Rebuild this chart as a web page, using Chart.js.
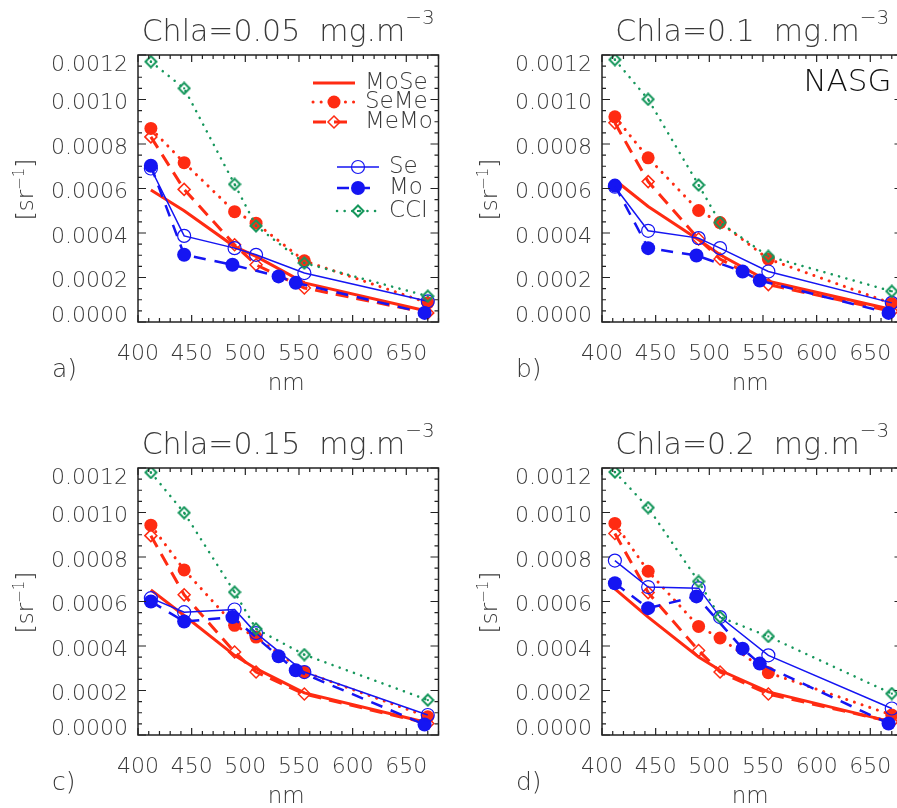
<!DOCTYPE html>
<html>
<head>
<meta charset="utf-8">
<title>Rrs spectra NASG</title>
<script src="https://cdn.jsdelivr.net/npm/chart.js@4.4.1/dist/chart.umd.min.js"></script>
<style>
  html, body { margin: 0; padding: 0; background: #fff; width: 897px; height: 808px; overflow: hidden; }
  canvas.panel { position: absolute; }
</style>
</head>
<body>
<canvas id="panelA" class="panel" width="448" height="395" style="left:0;top:0"></canvas>
<canvas id="panelB" class="panel" width="448" height="395" style="left:464px;top:0"></canvas>
<canvas id="panelC" class="panel" width="448" height="395" style="left:0;top:413px"></canvas>
<canvas id="panelD" class="panel" width="448" height="395" style="left:464px;top:413px"></canvas>
<script>
  'use strict';

  // Wavelengths (nm) of the sensors.
  var seaBands = [412, 443, 490, 510, 555, 670];
  var modisBands = [412, 443, 488, 531, 547, 667];

  // Axis tick labels.
  var xTicks = [400, 450, 500, 550, 600, 650];
  var yTicks = [0, 0.0002, 0.0004, 0.0006, 0.0008, 0.0010, 0.0012];

  var chlaLabels = ['0.05', '0.1', '0.15', '0.2'];
  var panelLetters = ['a)', 'b)', 'c)', 'd)'];

  // a) Chla = 0.05
  var moseA = [0.000593, 0.000500, 0.000339, 0.000295, 0.000176, 0.000048];
  var semeA = [0.000870, 0.000716, 0.000496, 0.000444, 0.000275, 0.000086];
  var memoA = [0.000832, 0.000596, 0.000347, 0.000257, 0.000153, 0.000041];
  var seA = [0.000690, 0.000387, 0.000332, 0.000302, 0.000220, 0.000093];
  var moA = [0.000702, 0.000302, 0.000257, 0.000205, 0.000176, 0.000041];
  var cciA = [0.001170, 0.001050, 0.000619, 0.000432, 0.000265, 0.000116];

  // b) Chla = 0.1
  var moseB = [0.000638, 0.000519, 0.000370, 0.000302, 0.000183, 0.000056];
  var semeB = [0.000922, 0.000738, 0.000501, 0.000447, 0.000283, 0.000083];
  var memoB = [0.000895, 0.000631, 0.000373, 0.000283, 0.000168, 0.000048];
  var seB = [0.000608, 0.000410, 0.000377, 0.000332, 0.000227, 0.000086];
  var moB = [0.000613, 0.000332, 0.000299, 0.000227, 0.000186, 0.000041];
  var cciB = [0.001179, 0.001001, 0.000616, 0.000447, 0.000295, 0.000138];

  // c) Chla = 0.15
  var moseC = [0.000652, 0.000537, 0.000358, 0.000298, 0.000189, 0.000055];
  var semeC = [0.000943, 0.000742, 0.000493, 0.000440, 0.000283, 0.000082];
  var memoC = [0.000896, 0.000630, 0.000373, 0.000283, 0.000184, 0.000052];
  var seC = [0.000615, 0.000552, 0.000564, 0.000458, 0.000283, 0.000090];
  var moC = [0.000600, 0.000510, 0.000530, 0.000354, 0.000291, 0.000047];
  var cciC = [0.001180, 0.000999, 0.000642, 0.000477, 0.000361, 0.000157];

  // d) Chla = 0.2
  var moseD = [0.000657, 0.000530, 0.000351, 0.000291, 0.000194, 0.000059];
  var semeD = [0.000951, 0.000736, 0.000488, 0.000436, 0.000280, 0.000090];
  var memoD = [0.000906, 0.000640, 0.000380, 0.000283, 0.000184, 0.000059];
  var seD = [0.000784, 0.000665, 0.000660, 0.000530, 0.000358, 0.000119];
  var moD = [0.000682, 0.000570, 0.000623, 0.000388, 0.000321, 0.000052];
  var cciD = [0.001182, 0.001022, 0.000690, 0.000530, 0.000443, 0.000186];

  var RED = '#ff2b12';
  var BLUE = '#1515f2';
  var GREEN = '#16975c';
  var INK = '#3a3a3a';
  var FONT = '"DejaVu Sans", sans-serif';

  function font(size) {
    return '200 ' + size + 'px ' + FONT;
  }

  function zip(xs, ys) {
    return ys.map(function (y, i) { return { x: xs[i], y: y }; });
  }

  // Green diamond with a dot in the middle, used as CCI marker.
  function makeCciMarker() {
    var c = document.createElement('canvas');
    c.width = 14;
    c.height = 14;
    var g = c.getContext('2d');
    g.strokeStyle = GREEN;
    g.lineWidth = 2;
    g.beginPath();
    g.moveTo(7, 1.5);
    g.lineTo(12.5, 7);
    g.lineTo(7, 12.5);
    g.lineTo(1.5, 7);
    g.closePath();
    g.stroke();
    g.fillStyle = GREEN;
    g.fillRect(6, 6, 2, 2);
    return c;
  }
  var cciMarker = makeCciMarker();

  function buildDatasets(mose, seme, memo, se, mo, cci) {
    // First dataset is drawn on top.
    return [
      {
        label: 'CCI', data: zip(seaBands, cci),
        borderColor: GREEN, borderWidth: 2.5, borderDash: [0.1, 7.5], borderCapStyle: 'round',
        pointStyle: cciMarker, pointRadius: 7
      },
      {
        label: 'Se', data: zip(seaBands, se),
        borderColor: BLUE, borderWidth: 1.5,
        pointStyle: 'circle', pointRadius: 6.5, pointBorderWidth: 1.2,
        pointBorderColor: BLUE, pointBackgroundColor: 'rgba(0,0,0,0)'
      },
      {
        label: 'Mo', data: zip(modisBands, mo),
        borderColor: BLUE, borderWidth: 2.5, borderDash: [12, 9],
        pointStyle: 'circle', pointRadius: 7, pointBorderWidth: 0,
        pointBackgroundColor: BLUE
      },
      {
        label: 'SeMe', data: zip(seaBands, seme),
        borderColor: RED, borderWidth: 3, borderDash: [0.1, 8], borderCapStyle: 'round',
        pointStyle: 'circle', pointRadius: 6.5, pointBorderWidth: 0,
        pointBackgroundColor: RED
      },
      {
        label: 'MeMo', data: zip(seaBands, memo),
        borderColor: RED, borderWidth: 3, borderDash: [13, 8],
        pointStyle: 'rectRot', pointRadius: 6, pointBorderWidth: 1.5,
        pointBorderColor: RED, pointBackgroundColor: 'rgba(0,0,0,0)'
      },
      {
        label: 'MoSe', data: zip(seaBands, mose),
        borderColor: RED, borderWidth: 3, pointRadius: 0
      }
    ];
  }

  function drawMarker(ctx, ds, x, y) {
    if (!ds.pointRadius) {
      return;
    }
    if (ds.pointStyle instanceof HTMLCanvasElement) {
      ctx.drawImage(ds.pointStyle, x - ds.pointStyle.width / 2, y - ds.pointStyle.height / 2);
      return;
    }
    var r = ds.pointRadius;
    ctx.beginPath();
    if (ds.pointStyle === 'circle') {
      ctx.arc(x, y, r, 0, Math.PI * 2);
    }
    else {
      ctx.moveTo(x, y - r);
      ctx.lineTo(x + r, y);
      ctx.lineTo(x, y + r);
      ctx.lineTo(x - r, y);
      ctx.closePath();
    }
    ctx.fillStyle = ds.pointBackgroundColor;
    ctx.fill();
    if (ds.pointBorderWidth) {
      ctx.lineWidth = ds.pointBorderWidth;
      ctx.strokeStyle = ds.pointBorderColor;
      ctx.stroke();
    }
  }

  function drawLegend(chart) {
    var ctx = chart.ctx;
    var byLabel = {};
    chart.data.datasets.forEach(function (ds) { byLabel[ds.label] = ds; });
    var rows = [
      { name: 'MoSe', x0: 313, x1: 355, tx: 365, y: 83 },
      { name: 'SeMe', x0: 313, x1: 355, tx: 365, y: 102 },
      { name: 'MeMo', x0: 313, x1: 355, tx: 365, y: 122 },
      { name: 'Se', x0: 337, x1: 379, tx: 389, y: 167 },
      { name: 'Mo', x0: 337, x1: 379, tx: 389, y: 188 },
      { name: 'CCI', x0: 337, x1: 379, tx: 389, y: 211 }
    ];
    rows.forEach(function (row) {
      var ds = byLabel[row.name];
      ctx.save();
      ctx.strokeStyle = ds.borderColor;
      ctx.lineWidth = ds.borderWidth;
      ctx.lineCap = ds.borderCapStyle || 'butt';
      ctx.setLineDash(ds.borderDash || []);
      ctx.beginPath();
      ctx.moveTo(row.x0, row.y);
      ctx.lineTo(row.x1, row.y);
      ctx.stroke();
      ctx.setLineDash([]);
      drawMarker(ctx, ds, (row.x0 + row.x1) / 2, row.y);
      ctx.fillStyle = INK;
      ctx.font = font(23);
      ctx.textAlign = 'left';
      ctx.textBaseline = 'alphabetic';
      ctx.fillText(row.name, row.tx, row.y + 6);
      ctx.restore();
    });
  }

  // Text followed by a raised exponent, drawn centred on cx.
  function drawWithExponent(ctx, text, exp, cx, baseline, size, expSize, raise) {
    ctx.font = font(size);
    var w1 = ctx.measureText(text).width;
    ctx.font = font(expSize);
    var w2 = ctx.measureText(exp).width;
    var x = cx - (w1 + w2) / 2;
    ctx.font = font(size);
    ctx.fillText(text, x, baseline);
    ctx.font = font(expSize);
    ctx.fillText(exp, x + w1, baseline - raise);
    return x + w1 + w2;
  }

  function panelPlugin(index) {
    return {
      id: 'idlFrame',
      afterDraw: function (chart) {
        var ctx = chart.ctx;
        var a = chart.chartArea;
        var xs = chart.scales.x;
        var ys = chart.scales.y;
        var i, px, py, len;

        ctx.save();
        // Box with inward ticks on all four sides.
        ctx.strokeStyle = '#222';
        ctx.lineWidth = 1.5;
        ctx.strokeRect(a.left, a.top, a.right - a.left, a.bottom - a.top);
        ctx.lineWidth = 1.2;
        ctx.beginPath();
        for (i = 0; i <= 28; i++) {
          px = xs.getPixelForValue(400 + i * 10);
          len = i % 5 === 0 ? 7 : 4;
          ctx.moveTo(px, a.bottom);
          ctx.lineTo(px, a.bottom - len);
          ctx.moveTo(px, a.top);
          ctx.lineTo(px, a.top + len);
        }
        for (i = 0; i <= 24; i++) {
          py = ys.getPixelForValue(i * 0.00005);
          len = i % 4 === 0 ? 8 : 4;
          ctx.moveTo(a.left, py);
          ctx.lineTo(a.left + len, py);
          ctx.moveTo(a.right, py);
          ctx.lineTo(a.right - len, py);
        }
        ctx.stroke();

        ctx.fillStyle = INK;
        ctx.font = font(22);
        ctx.textBaseline = 'alphabetic';

        // Y tick labels.
        ctx.textAlign = 'right';
        yTicks.forEach(function (v) {
          var y = ys.getPixelForValue(v) + 1.5;
          y = Math.max(a.top + 8, Math.min(a.bottom - 8, y));
          ctx.fillText(v.toFixed(4), a.left - 10, y + 8.3);
        });

        // X tick labels.
        ctx.textAlign = 'center';
        xTicks.forEach(function (v) {
          ctx.fillText(String(v), xs.getPixelForValue(v), a.bottom + 37.5);
        });

        // X axis title and panel letter.
        ctx.font = font(23);
        ctx.fillText('nm', (a.left + a.right) / 2 - 2, a.bottom + 68);
        ctx.textAlign = 'left';
        ctx.font = font(25);
        ctx.fillText(panelLetters[index], 52, a.bottom + 55);

        // Title.
        ctx.textAlign = 'left';
        drawWithExponent(ctx, 'Chla=' + chlaLabels[index] + '  mg.m', '\u22123',
          (a.left + a.right) / 2, a.top - 14, 30, 20, 17.5);

        // Y axis title, rotated.
        ctx.save();
        ctx.translate(25, (a.top + a.bottom) / 2 + 1);
        ctx.rotate(-Math.PI / 2);
        ctx.font = font(23);
        var w1 = ctx.measureText('[sr').width;
        ctx.font = font(15);
        var w2 = ctx.measureText('\u22121').width;
        ctx.font = font(23);
        var w3 = ctx.measureText(']').width;
        var x0 = -(w1 + w2 + w3) / 2;
        ctx.fillText('[sr', x0, 8);
        ctx.font = font(15);
        ctx.fillText('\u22121', x0 + w1, -1);
        ctx.font = font(23);
        ctx.fillText(']', x0 + w1 + w2, 8);
        ctx.restore();

        if (index === 0) {
          drawLegend(chart);
        }
        if (index === 1) {
          ctx.fillStyle = '#111';
          ctx.font = font(31);
          ctx.textAlign = 'right';
          ctx.fillText('NASG', a.right - 11, 90.7);
        }
        ctx.restore();
      }
    };
  }

  function makePanel(canvasId, index, datasets) {
    return new Chart(document.getElementById(canvasId), {
      type: 'line',
      data: { datasets: datasets },
      options: {
        responsive: false,
        animation: false,
        devicePixelRatio: 1,
        layout: { padding: { left: 138, top: 55, right: 8, bottom: 73 } },
        elements: { line: { tension: 0 } },
        scales: {
          x: { type: 'linear', min: 400, max: 680, display: false },
          y: { type: 'linear', min: 0, max: 0.0012, display: false }
        },
        plugins: {
          legend: { display: false },
          tooltip: { enabled: false }
        }
      },
      plugins: [panelPlugin(index)]
    });
  }

  makePanel('panelA', 0, buildDatasets(moseA, semeA, memoA, seA, moA, cciA));
  makePanel('panelB', 1, buildDatasets(moseB, semeB, memoB, seB, moB, cciB));
  makePanel('panelC', 2, buildDatasets(moseC, semeC, memoC, seC, moC, cciC));
  makePanel('panelD', 3, buildDatasets(moseD, semeD, memoD, seD, moD, cciD));
</script>
</body>
</html>
